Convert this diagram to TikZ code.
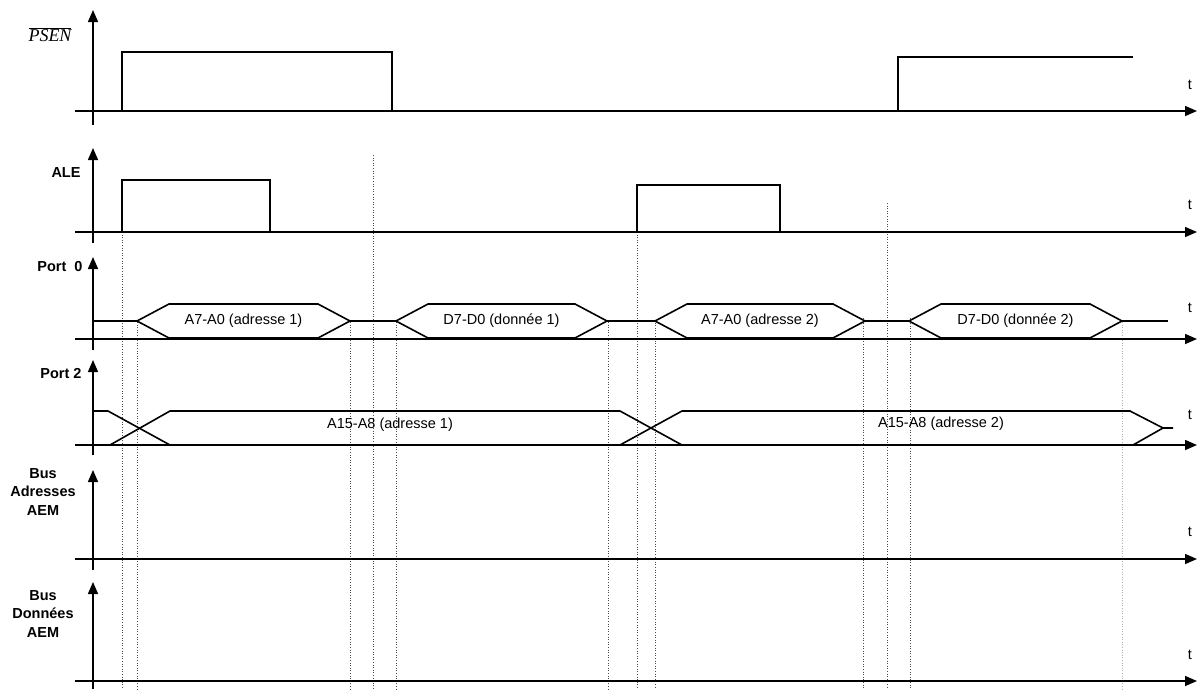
\documentclass[tikz,border=0pt]{standalone}
\usepackage{fontspec}
\setmainfont{Liberation Serif}
\setsansfont{Liberation Sans}
\usetikzlibrary{arrows.meta}

\begin{document}
\begin{tikzpicture}[x=1pt,y=-1pt,
  axe/.style={line width=1.5pt, -{Triangle[length=12pt,width=10pt]}},
  sig/.style={line width=1.2pt},
  bus/.style={line width=1.6pt, line join=miter},
  guide/.style={dotted, line width=0.6pt, black!70},
  lbl/.style={font=\sffamily\bfseries\fontsize{14.5}{18.5}\selectfont, align=center},
  tlbl/.style={font=\sffamily\fontsize{14.5}{16}\selectfont},
  buslbl/.style={font=\sffamily\fontsize{14.5}{16}\selectfont}]
\useasboundingbox (0,0) rectangle (1203,689);
% reperes en pointilles
\foreach \x/\y in {122/232,137/322,350/322,373/155,396/322,608/322,637/232,655/320,863/318,887/203,910/318}
  \draw[guide] (\x,\y) -- (\x,689);
\draw[guide, black!30] (1122,322) -- (1122,689);
% axes
\foreach \b/\top/\bot in {111/10/125, 232/148/243, 339/257/350, 445/360/455, 559/470/570, 681/582/689} {
  \draw[axe] (93,\bot) -- (93,\top);
  \draw[axe] (75,\b) -- (1197,\b);
}
% noms des signaux
\node (psen) at (50,35) {\fontsize{18}{20}\selectfont$\overline{\hbox{\itshape PSEN}}$};
\node[lbl] (ale) at (66,173) {ALE};
\node[lbl] (port0) at (60,267) {Port\ \ 0};
\node[lbl] (port2) at (61,374) {Port 2};
\node[lbl] (busadr) at (43,492) {Bus\\Adresses\\AEM};
\node[lbl] (busdon) at (43,614) {Bus\\Données\\AEM};
\foreach \y [count=\i] in {85,205,308,415,532,655}
  \node[tlbl] (t\i) at (1190,\y) {t};
% PSEN et ALE
\draw[sig] (93,111) -- (122,111) -- (122,52) -- (392,52) -- (392,111) -- (898,111) -- (898,57) -- (1133,57);
\draw[sig] (93,232) -- (122,232) -- (122,180) -- (270,180) -- (270,232);
\draw[sig] (637,232) -- (637,185) -- (780,185) -- (780,232);
% Port 0
\foreach \a/\b in {93/137,350/396,607/655,865/909,1122/1168}
  \draw[bus] (\a,321) -- (\b,321);
\foreach \a/\b/\txt [count=\i] in {137/350/A7-A0 (adresse 1), 396/607/D7-D0 (donnée 1), 655/865/A7-A0 (adresse 2), 909/1122/D7-D0 (donnée 2)} {
  \draw[bus] (\a,321) -- (\a+32,304) -- (\b-32,304) -- (\b,321) -- (\b-32,338) -- (\a+32,338) -- cycle;
  \node[buslbl] (p0d\i) at ({(\a+\b)/2},321) {\txt};
}
% Port 2
\draw[bus] (93,411) -- (108,411) -- (170,445);
\draw[bus] (110,445) -- (170,411) -- (620,411) -- (682,445);
\draw[bus] (620,445) -- (682,411) -- (1130,411) -- (1163,428) -- (1173,428);
\draw[bus] (1133,445) -- (1163,428);
\node[buslbl] (p2d1) at (390,425) {A15-A8 (adresse 1)};
\node[buslbl] (p2d2) at (941,424) {A15-A8 (adresse 2)};
\end{tikzpicture}
\end{document}
